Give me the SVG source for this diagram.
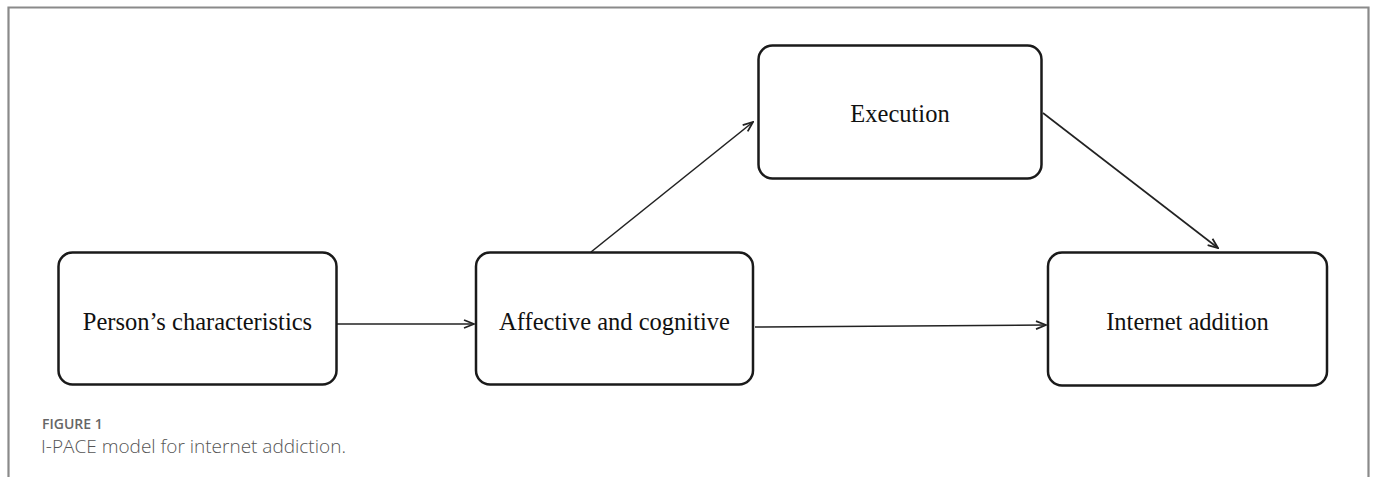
<svg xmlns="http://www.w3.org/2000/svg" width="1375" height="477" viewBox="0 0 1375 477">
<style>
.box{fill:#fff;stroke:#1a1a1a;stroke-width:2.5}
.lbl{font-family:"Liberation Serif","Times New Roman",serif;font-size:24.5px;fill:#111;text-anchor:middle}
.edge{fill:none;stroke:#222;stroke-width:1.6;marker-end:url(#ah)}
.frame{fill:none;stroke:#8a8a8a;stroke-width:2.2}
.cap{font-family:"Open Sans","Noto Sans",sans-serif}
</style>
<defs>
<marker id="ah" viewBox="0 0 12 10" refX="11" refY="5" markerWidth="12" markerHeight="10" markerUnits="userSpaceOnUse" orient="auto">
<path d="M1,1 L11,5 L1,9" fill="none" stroke="#222" stroke-width="1.8"/>
</marker>
</defs>
<rect width="1375" height="477" fill="#fff"/>
<path class="frame" d="M8.5,477 V7.5 H1368.5 V477"/>
<g id="connectors">
<line class="edge" x1="337" y1="324" x2="474" y2="324"/>
<line class="edge" x1="755" y1="327" x2="1046" y2="325"/>
<line class="edge" x1="591" y1="252" x2="753" y2="122"/>
<line class="edge" x1="1043" y1="113" x2="1218" y2="248"/>
</g>
<g id="node-person">
<rect class="box" x="58.5" y="252.5" width="278" height="132" rx="14"/>
<text class="lbl" x="197.5" y="330">Person’s characteristics</text>
</g>
<g id="node-affective">
<rect class="box" x="476" y="252.5" width="277" height="132" rx="14"/>
<text class="lbl" x="614.5" y="330">Affective and cognitive</text>
</g>
<g id="node-execution">
<rect class="box" x="758.5" y="45.5" width="283" height="133" rx="14"/>
<text class="lbl" x="900" y="122">Execution</text>
</g>
<g id="node-internet">
<rect class="box" x="1048" y="252.5" width="279" height="133" rx="14"/>
<text class="lbl" x="1187.5" y="330">Internet addition</text>
</g>
<g id="caption">
<text class="cap" x="42" y="429" font-size="14" font-weight="600" fill="#666">FIGURE 1</text>
<text class="cap" x="41" y="453" font-size="19" font-weight="300" fill="#555">I-PACE model for internet addiction.</text>
</g>
</svg>
